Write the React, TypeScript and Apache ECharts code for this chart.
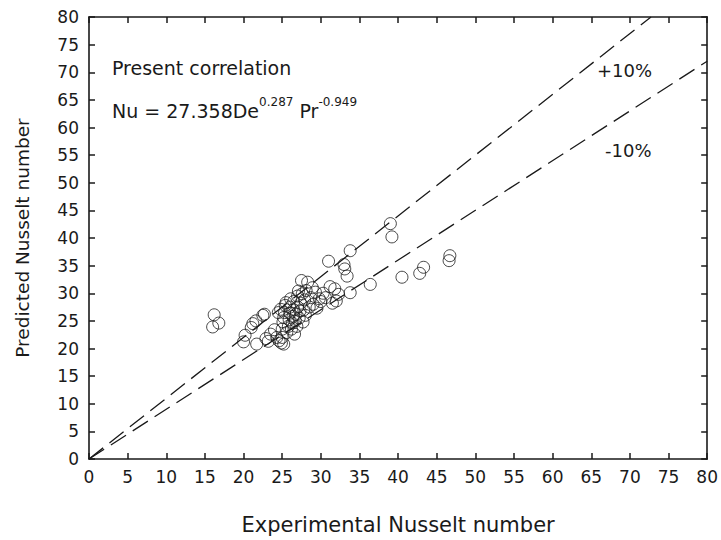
import React, { useEffect, useRef } from "react";
import * as echarts from "echarts";

const xTicks = { min: 0, max: 80, interval: 5 };
const yTicks = { min: 0, max: 80, interval: 5 };
const xTitle = "Experimental Nusselt number";
const yTitle = "Predicted Nusselt number";

const plusLine: [number, number][] = [[0, 0], [72.73, 80]];
const minusLine: [number, number][] = [[0, 0], [80, 72]];

const points: [number, number][] = [
  [16.2, 26.1], [16.0, 23.9], [16.8, 24.6],
  [20.0, 21.2], [20.2, 22.4], [21.0, 23.8], [21.2, 24.5], [21.6, 25.0], [21.7, 20.8],
  [22.5, 26.0], [22.7, 26.2], [22.9, 21.8], [23.2, 21.3], [23.5, 22.6], [24.0, 23.4],
  [24.3, 22.0], [24.5, 26.5], [24.6, 21.4], [24.8, 27.1], [24.9, 21.0], [25.0, 22.0],
  [25.0, 23.5], [25.1, 24.8], [25.2, 20.8], [25.2, 25.6], [25.3, 26.5], [25.4, 27.8],
  [25.5, 28.3], [25.6, 22.9], [25.8, 24.0], [25.9, 25.2], [26.0, 26.4], [26.0, 27.5],
  [26.1, 29.0], [26.2, 23.5], [26.3, 24.6], [26.4, 25.8], [26.5, 27.0], [26.5, 28.5],
  [26.6, 22.6], [26.7, 25.0], [26.8, 26.2], [26.9, 24.0], [27.0, 27.5], [27.0, 29.5],
  [27.1, 30.4], [27.2, 25.5], [27.3, 26.8], [27.4, 28.2], [27.5, 32.3], [27.6, 29.9],
  [27.7, 24.8], [27.8, 27.0], [27.9, 28.8], [28.0, 26.0], [28.1, 30.5], [28.3, 32.0],
  [28.5, 27.5], [28.7, 29.2], [28.9, 31.0], [29.0, 28.0], [29.3, 30.2], [29.5, 27.3],
  [29.8, 29.0], [30.0, 28.5], [30.3, 30.0], [30.6, 29.2], [31.0, 35.8], [31.2, 31.2],
  [31.5, 28.2], [31.8, 30.8], [32.0, 28.6], [32.3, 29.8], [33.0, 35.2], [33.1, 34.4],
  [33.4, 33.1], [33.8, 37.7], [33.8, 30.1], [36.4, 31.6], [39.0, 42.6], [39.2, 40.2],
  [40.5, 32.9], [42.8, 33.6], [43.3, 34.7], [46.7, 36.8], [46.6, 35.9],
];

const FONT = "DejaVu Sans, Liberation Sans, Arial, sans-serif";
const INK = "#1a1a1a";

export default function App() {
  const ref = useRef<HTMLDivElement>(null);
  useEffect(() => {
    document.body.style.margin = "0";
    if (!ref.current) return;
    const chart = echarts.init(ref.current, null, { renderer: "svg" });
    const axisCommon = {
      type: "value" as const,
      splitLine: { show: false },
      axisLine: { show: true, onZero: false, lineStyle: { color: INK, width: 1.6 } },
      axisTick: { show: true, inside: true, length: 6, lineStyle: { color: INK, width: 1.5 } },
    };
    chart.setOption({
      animation: false,
      backgroundColor: "#fff",
      grid: { left: 89, right: 10, top: 17, bottom: 80, containLabel: false },
      xAxis: [
        {
          ...axisCommon,
          ...xTicks,
          position: "bottom",
          name: xTitle,
          nameLocation: "middle",
          nameGap: 55,
          nameTextStyle: { fontFamily: FONT, fontSize: 21, color: INK },
          axisLabel: { fontFamily: FONT, fontSize: 17, color: INK, margin: 9 },
        },
        {
          ...axisCommon,
          ...xTicks,
          position: "top",
          axisLabel: { show: false },
        },
      ],
      yAxis: [
        {
          ...axisCommon,
          ...yTicks,
          position: "left",
          name: yTitle,
          nameLocation: "middle",
          nameGap: 57,
          nameTextStyle: { fontFamily: FONT, fontSize: 18.5, color: INK },
          axisLabel: { fontFamily: FONT, fontSize: 17, color: INK, margin: 10 },
        },
        {
          ...axisCommon,
          ...yTicks,
          position: "right",
          axisLabel: { show: false },
        },
      ],
      series: [
        {
          type: "line",
          data: plusLine,
          symbol: "none",
          lineStyle: { color: INK, width: 1.3, type: [18, 8] },
        },
        {
          type: "line",
          data: minusLine,
          symbol: "none",
          lineStyle: { color: INK, width: 1.3, type: [18, 8] },
        },
        {
          type: "scatter",
          data: points,
          symbol: "circle",
          symbolSize: 12,
          itemStyle: { color: "rgba(255,255,255,0)", borderColor: INK, borderWidth: 1 },
        },
      ],
      graphic: [
        {
          type: "text",
          left: 112,
          top: 58,
          style: { text: "Present correlation", font: `19px ${FONT}`, fill: INK },
        },
        {
          type: "text",
          left: 112,
          top: 96,
          style: {
            text: "{b|Nu = 27.358De}{s|0.287}{b| Pr}{s|-0.949}",
            rich: {
              b: { fontFamily: FONT, fontSize: 19, fill: INK, color: INK, verticalAlign: "bottom", lineHeight: 24 },
              s: { fontFamily: FONT, fontSize: 12, fill: INK, color: INK, verticalAlign: "top", lineHeight: 24 },
            },
          },
        },
        {
          type: "text",
          left: 597,
          top: 61,
          style: { text: "+10%", font: `18px ${FONT}`, fill: INK },
        },
        {
          type: "text",
          left: 605,
          top: 141,
          style: { text: "-10%", font: `18px ${FONT}`, fill: INK },
        },
      ],
    });
    return () => chart.dispose();
  }, []);
  return <div ref={ref} style={{ width: 721, height: 540 }} />;
}
